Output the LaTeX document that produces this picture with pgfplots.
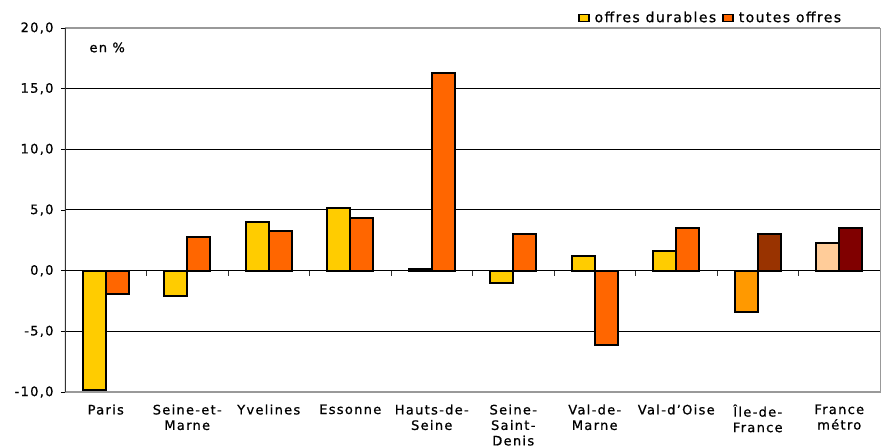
\documentclass[border=0pt]{standalone}
\usepackage{pgfplots}
\pgfplotsset{compat=1.18}
\usepackage{fontspec}
\setmainfont{DejaVu Sans}[LetterSpace=10, FakeBold=0.8]
\definecolor{cyel}{HTML}{FFCC00}
\definecolor{cora}{HTML}{FF6600}
\definecolor{cidf1}{HTML}{FF9900}
\definecolor{cidf2}{HTML}{993300}
\definecolor{cfr1}{HTML}{FFCC99}
\definecolor{cfr2}{HTML}{800000}
\definecolor{bordergray}{HTML}{999999}
\begin{document}
\fontsize{13bp}{15bp}\selectfont
\begin{tikzpicture}
\begin{axis}[
  scale only axis,
  width=815bp, height=364bp,
  xmin=-0.5, xmax=9.5,
  ymin=-10, ymax=20,
  ytick={-10,-5,0,5,10,15,20},
  xtick={0,...,9},
  xticklabels={Paris,{Seine-et-\\Marne},Yvelines,Essonne,{Hauts-de-\\Seine},{Seine-\\Saint-\\Denis},{Val-de-\\Marne},Val-d'Oise,{Île-de-\\France},{France\\métro}},
  xticklabel style={align=center, anchor=north, yshift=-4bp, font=\fontsize{13bp}{15.5bp}\selectfont},
  yticklabel style={font=\fontsize{13bp}{15bp}\selectfont, xshift=-3bp},
  /pgf/number format/.cd, fixed, fixed zerofill, precision=1, use comma, assume math mode=true,
  /pgfplots/.cd,
  axis line style={bordergray},
  tick align=outside,
  xtick style={draw=none},
  ytick style={black, line width=0.8bp},
  major tick length=4bp,
  ymajorgrids,
  grid style={black, line width=1bp},
  legend style={at={(0.955,1.028)}, anchor=east, draw=none, fill=none, inner sep=0pt,
    font=\fontsize{14bp}{15bp}\selectfont,
    /tikz/every odd column/.append style={column sep=3bp},
    /tikz/every even column/.append style={column sep=4bp}},
  legend columns=2,
  legend image code/.code={\draw[#1,draw=black,line width=1.6bp] (0bp,-3.5bp) rectangle (10bp,3.5bp);},
]
\addplot[ybar, bar width=23bp, bar shift=-11.5bp, fill=cyel, draw=black, line width=2bp]
  coordinates {(0,-9.8) (1,-2.1) (2,4.0) (3,5.2) (4,0.1) (5,-1.0) (6,1.2) (7,1.65)};
\addlegendentry{offres durables}
\addplot[ybar, bar width=23bp, bar shift=11.5bp, fill=cora, draw=black, line width=2bp]
  coordinates {(0,-1.9) (1,2.8) (2,3.3) (3,4.3) (4,16.3) (5,3.0) (6,-6.1) (7,3.5)};
\addlegendentry{toutes offres}
\addplot[ybar, bar width=23bp, bar shift=-11.5bp, fill=cidf1, draw=black, line width=2bp, forget plot]
  coordinates {(8,-3.4)};
\addplot[ybar, bar width=23bp, bar shift=11.5bp, fill=cidf2, draw=black, line width=2bp, forget plot]
  coordinates {(8,3.0)};
\addplot[ybar, bar width=23bp, bar shift=-11.5bp, fill=cfr1, draw=black, line width=2bp, forget plot]
  coordinates {(9,2.3)};
\addplot[ybar, bar width=23bp, bar shift=11.5bp, fill=cfr2, draw=black, line width=2bp, forget plot]
  coordinates {(9,3.5)};
% frame and zero line
\draw[bordergray, line width=1.5bp] (rel axis cs:0,1) -- (rel axis cs:1,1);
\draw[bordergray, line width=1.5bp] (rel axis cs:0,0) -- (rel axis cs:1,0);
\draw[black!80, line width=1.2bp] (rel axis cs:0,0) -- (rel axis cs:0,1);
\draw[black, line width=1.2bp] (axis cs:-0.5,0) -- (axis cs:9.5,0);
\pgfplotsinvokeforeach{0.5,1.5,2.5,3.5,4.5,5.5,6.5,7.5,8.5}{
  \draw[black!80, line width=0.8bp] (axis cs:#1,0) -- ([yshift=-5bp]axis cs:#1,0);
}
\node[anchor=west, font=\fontsize{13bp}{14bp}\selectfont] at (axis cs:-0.5,18.4) {\hspace{20bp}en \%};
\end{axis}
\pgfresetboundingbox
\path[use as bounding box] ([shift={(-65bp,-55bp)}]current axis.south west) rectangle ([shift={(1bp,28bp)}]current axis.north east);
\end{tikzpicture}
\end{document}
